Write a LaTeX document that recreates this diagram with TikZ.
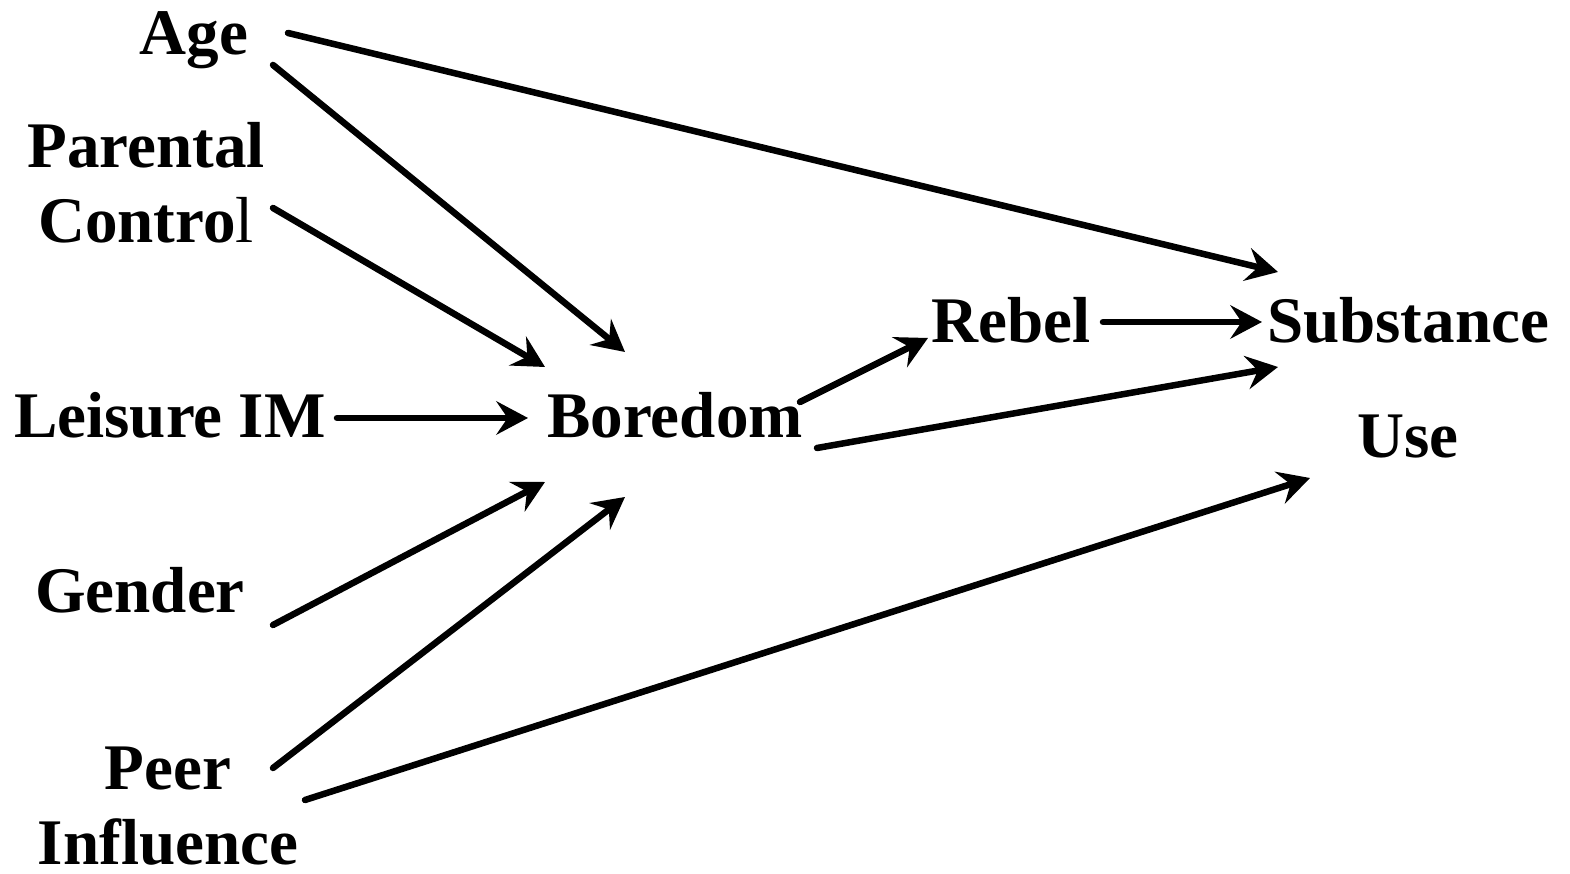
\documentclass[tikz,border=0pt]{standalone}
\usepackage{fontspec}
\setmainfont{Liberation Serif}
\usetikzlibrary{arrows.meta}
\begin{document}
\begin{tikzpicture}[x=0.01cm, y=-0.01cm,
  lbl/.style={font=\fontsize{18.5}{21.5}\selectfont\bfseries, inner sep=0pt},
  one/.style={lbl, text height=13.5pt, text depth=4.5pt},
  multi/.style={lbl, align=center, anchor=base},
  link/.style={line width=1.85pt, line cap=round,
    -{Stealth[length=9pt, width=9.5pt, inset=3.2pt]}}]
\useasboundingbox (0,0) rectangle (1570,874);

% variables (multi-line labels are placed by the baseline of their last line)
\node[one] (age) at (194,39) {Age};
\node[multi] (parental) at (146,243) {Parental\\Contro\textmd{l}};
\node[one] (leisure) at (170,422) {Leisure IM};
\node[one] (gender) at (140,597) {Gender};
\node[multi] (peer) at (168,865) {Peer\\Influence};
\node[one] (boredom) at (675,422) {Boredom};
\node[one] (rebel) at (1011,327) {Rebel};
\node[multi] (substance) at (1408,458) {Substance\\[11.2pt]Use};

% paths into boredom
\draw[link] ([shift={(79,26)}]age.center) -- ([shift={(-50,-70)}]boredom.center);
\draw[link] ([shift={(127,-35)}]parental.base) -- ([shift={(-130,-55)}]boredom.center);
\draw[link] ([shift={(167,-4)}]leisure.center) -- ([shift={(-147,-4)}]boredom.center);
\draw[link] ([shift={(133,28)}]gender.center) -- ([shift={(-130,60)}]boredom.center);
\draw[link] ([shift={(105,-97)}]peer.base) -- ([shift={(-50,75)}]boredom.center);

% paths into substance use
\draw[link] ([shift={(94,-6)}]age.center) -- ([shift={(-130,-186)}]substance.base);
\draw[link] ([shift={(137,-65)}]peer.base) -- ([shift={(-98,20)}]substance.base);
\draw[link] ([shift={(142,26)}]boredom.center) -- ([shift={(-130,-91)}]substance.base);
\draw[link] ([shift={(92,-5)}]rebel.center) -- ([shift={(-146,-136)}]substance.base);

% boredom to rebel
\draw[link] ([shift={(125,-20)}]boredom.center) -- ([shift={(-83,11)}]rebel.center);
\end{tikzpicture}
\end{document}
